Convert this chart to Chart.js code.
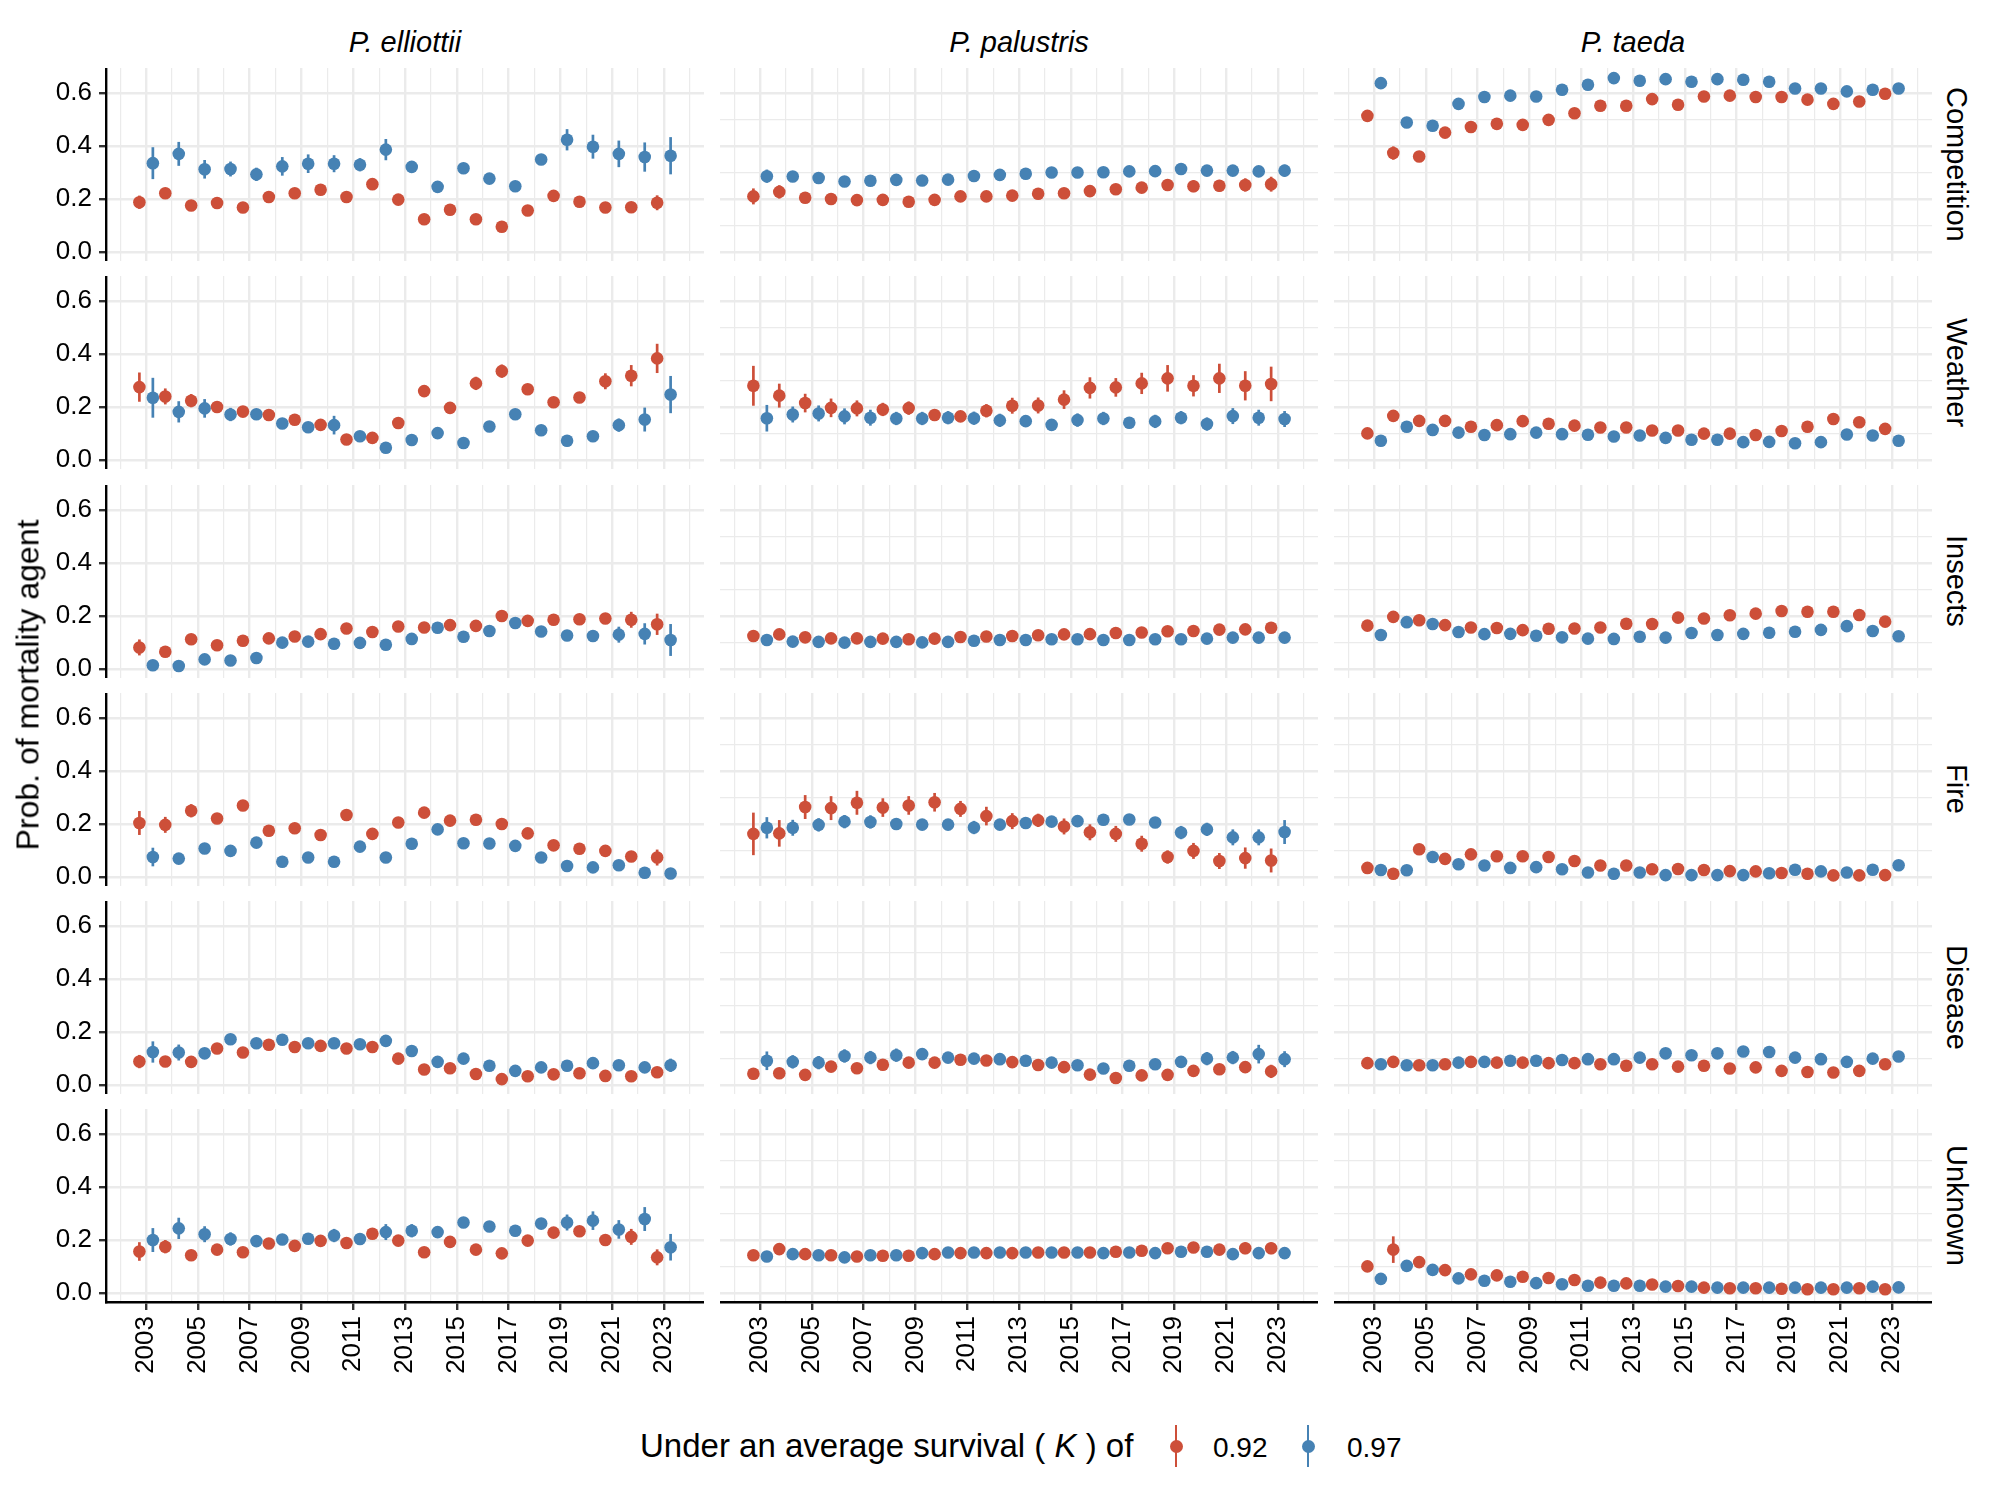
<!DOCTYPE html>
<html>
<head>
<meta charset="utf-8">
<script src="https://cdn.jsdelivr.net/npm/chart.js@4.4.1/dist/chart.umd.min.js"></script>
<style>
  body { margin: 0; background: #fff; }
  #page { position: relative; width: 2000px; height: 1500px; font-family: 'Liberation Sans', Arial, sans-serif; color: #000; }
  #page canvas { position: absolute; }
  .txt { position: absolute; white-space: nowrap; z-index: 2; }
  .strip-top { height: 36px; line-height: 36px; text-align: center; font-style: italic; font-size: 29px; }
  .strip-right { width: 40px; line-height: 40px; writing-mode: vertical-rl; text-align: center; font-size: 29px; }
  .key-line { position: absolute; width: 2.7px; height: 42px; z-index: 2; }
  .key-dot { position: absolute; width: 13px; height: 13px; border-radius: 50%; z-index: 2; }
</style>
</head>
<body>
<div id="page"></div>
<script>
const years = [2003, 2004, 2005, 2006, 2007, 2008, 2009, 2010, 2011, 2012, 2013, 2014, 2015, 2016, 2017, 2018, 2019, 2020, 2021, 2022, 2023];
const gridYears = [2002, 2003, 2004, 2005, 2006, 2007, 2008, 2009, 2010, 2011, 2012, 2013, 2014, 2015, 2016, 2017, 2018, 2019, 2020, 2021, 2022, 2023, 2024];
const yGrid = [0, 0.1, 0.2, 0.3, 0.4, 0.5, 0.6];
const species = ['P. elliottii', 'P. palustris', 'P. taeda'];
const agents = ['Competition', 'Weather', 'Insects', 'Fire', 'Disease', 'Unknown'];
const survival = ['0.92', '0.97'];

// Competition
const compEll92 = [0.188, 0.222, 0.176, 0.185, 0.168, 0.208, 0.222, 0.235, 0.208, 0.256, 0.198, 0.124, 0.160, 0.124, 0.096, 0.157, 0.212, 0.190, 0.168, 0.169, 0.186];
const compEll97 = [0.335, 0.370, 0.312, 0.313, 0.293, 0.323, 0.333, 0.333, 0.329, 0.386, 0.321, 0.246, 0.316, 0.277, 0.248, 0.349, 0.423, 0.397, 0.370, 0.358, 0.363];
const compPal92 = [0.210, 0.227, 0.205, 0.200, 0.196, 0.197, 0.190, 0.197, 0.210, 0.210, 0.213, 0.220, 0.222, 0.230, 0.237, 0.243, 0.253, 0.248, 0.250, 0.253, 0.256];
const compPal97 = [0.286, 0.285, 0.279, 0.266, 0.269, 0.272, 0.270, 0.273, 0.287, 0.291, 0.295, 0.300, 0.300, 0.301, 0.304, 0.305, 0.313, 0.307, 0.307, 0.304, 0.307];
const compTae92 = [0.513, 0.373, 0.360, 0.450, 0.471, 0.483, 0.479, 0.498, 0.523, 0.551, 0.551, 0.576, 0.555, 0.586, 0.589, 0.584, 0.584, 0.574, 0.558, 0.567, 0.596];
const compTae97 = [0.636, 0.488, 0.476, 0.558, 0.584, 0.589, 0.586, 0.611, 0.630, 0.655, 0.645, 0.651, 0.641, 0.651, 0.649, 0.641, 0.616, 0.616, 0.605, 0.611, 0.616];
const compEll92Err = [0.025, 0.020, 0.012, 0.012, 0.015, 0.012, 0.012, 0.015, 0.012, 0.020, 0.012, 0.015, 0.015, 0.015, 0.015, 0.015, 0.015, 0.012, 0.015, 0.015, 0.028];
const compEll97Err = [0.060, 0.045, 0.035, 0.028, 0.025, 0.035, 0.035, 0.032, 0.025, 0.040, 0.020, 0.020, 0.020, 0.020, 0.020, 0.020, 0.040, 0.045, 0.050, 0.055, 0.070];
const compPal92Err = [0.030, 0.025, 0.020, 0.020, 0.020, 0.020, 0.020, 0.020, 0.020, 0.020, 0.018, 0.018, 0.020, 0.020, 0.020, 0.020, 0.022, 0.022, 0.022, 0.025, 0.028];
const compPal97Err = [0.025, 0.020, 0.020, 0.020, 0.020, 0.020, 0.020, 0.020, 0.020, 0.020, 0.020, 0.018, 0.018, 0.018, 0.018, 0.018, 0.020, 0.020, 0.020, 0.020, 0.022];
const compTae92Err = [0.015, 0.025, 0.020, 0.015, 0.015, 0.015, 0.015, 0.015, 0.015, 0.015, 0.015, 0.015, 0.015, 0.015, 0.015, 0.015, 0.015, 0.015, 0.015, 0.015, 0.015];
const compTae97Err = [0.012, 0.012, 0.012, 0.012, 0.012, 0.012, 0.012, 0.012, 0.012, 0.012, 0.012, 0.012, 0.012, 0.012, 0.012, 0.012, 0.012, 0.012, 0.012, 0.012, 0.012];

// Weather
const weatEll92 = [0.275, 0.240, 0.224, 0.200, 0.183, 0.170, 0.152, 0.133, 0.078, 0.084, 0.140, 0.260, 0.197, 0.289, 0.335, 0.267, 0.218, 0.236, 0.297, 0.318, 0.383];
const weatEll97 = [0.235, 0.182, 0.195, 0.172, 0.173, 0.138, 0.124, 0.132, 0.090, 0.047, 0.076, 0.102, 0.065, 0.127, 0.173, 0.113, 0.073, 0.090, 0.132, 0.153, 0.247];
const weatPal92 = [0.280, 0.243, 0.215, 0.197, 0.195, 0.191, 0.196, 0.170, 0.165, 0.186, 0.205, 0.206, 0.228, 0.272, 0.274, 0.289, 0.308, 0.280, 0.308, 0.280, 0.287];
const weatPal97 = [0.158, 0.172, 0.176, 0.165, 0.160, 0.157, 0.157, 0.160, 0.158, 0.150, 0.147, 0.133, 0.151, 0.157, 0.141, 0.146, 0.160, 0.136, 0.166, 0.160, 0.155];
const weatTae92 = [0.101, 0.167, 0.148, 0.148, 0.126, 0.132, 0.147, 0.137, 0.130, 0.123, 0.123, 0.112, 0.112, 0.100, 0.100, 0.095, 0.110, 0.126, 0.155, 0.143, 0.118];
const weatTae97 = [0.073, 0.126, 0.114, 0.104, 0.095, 0.098, 0.104, 0.098, 0.096, 0.089, 0.093, 0.084, 0.077, 0.077, 0.068, 0.069, 0.064, 0.068, 0.097, 0.093, 0.073];
const weatEll92Err = [0.055, 0.030, 0.025, 0.015, 0.015, 0.015, 0.015, 0.015, 0.015, 0.015, 0.020, 0.020, 0.020, 0.025, 0.025, 0.020, 0.020, 0.020, 0.030, 0.040, 0.055];
const weatEll97Err = [0.075, 0.040, 0.035, 0.025, 0.020, 0.020, 0.020, 0.035, 0.020, 0.020, 0.015, 0.015, 0.015, 0.020, 0.020, 0.020, 0.020, 0.020, 0.025, 0.045, 0.070];
const weatPal92Err = [0.075, 0.045, 0.035, 0.035, 0.030, 0.025, 0.025, 0.020, 0.020, 0.025, 0.030, 0.030, 0.035, 0.040, 0.035, 0.040, 0.050, 0.040, 0.055, 0.055, 0.065];
const weatPal97Err = [0.050, 0.030, 0.030, 0.030, 0.030, 0.025, 0.025, 0.025, 0.025, 0.025, 0.020, 0.020, 0.025, 0.025, 0.020, 0.025, 0.025, 0.025, 0.030, 0.030, 0.030];
const weatTae92Err = [0.015, 0.020, 0.015, 0.015, 0.015, 0.015, 0.015, 0.015, 0.015, 0.015, 0.015, 0.015, 0.015, 0.015, 0.015, 0.015, 0.015, 0.015, 0.015, 0.015, 0.015];
const weatTae97Err = [0.012, 0.015, 0.012, 0.012, 0.012, 0.012, 0.012, 0.012, 0.012, 0.012, 0.012, 0.012, 0.012, 0.012, 0.012, 0.012, 0.012, 0.012, 0.012, 0.012, 0.012];

// Insects
const inseEll92 = [0.082, 0.066, 0.113, 0.090, 0.107, 0.116, 0.123, 0.132, 0.153, 0.140, 0.161, 0.157, 0.166, 0.163, 0.200, 0.182, 0.186, 0.188, 0.191, 0.186, 0.169];
const inseEll97 = [0.015, 0.012, 0.037, 0.033, 0.042, 0.100, 0.104, 0.096, 0.099, 0.092, 0.114, 0.156, 0.122, 0.144, 0.174, 0.142, 0.127, 0.125, 0.130, 0.133, 0.110];
const insePal92 = [0.125, 0.131, 0.120, 0.116, 0.116, 0.115, 0.113, 0.115, 0.121, 0.123, 0.125, 0.128, 0.131, 0.132, 0.136, 0.138, 0.143, 0.144, 0.149, 0.150, 0.156];
const insePal97 = [0.110, 0.104, 0.103, 0.100, 0.103, 0.103, 0.101, 0.103, 0.107, 0.110, 0.110, 0.113, 0.113, 0.110, 0.110, 0.113, 0.113, 0.115, 0.119, 0.119, 0.119];
const inseTae92 = [0.164, 0.197, 0.184, 0.166, 0.157, 0.155, 0.147, 0.152, 0.153, 0.157, 0.171, 0.170, 0.194, 0.191, 0.203, 0.209, 0.219, 0.216, 0.216, 0.204, 0.179];
const inseTae97 = [0.129, 0.177, 0.170, 0.140, 0.132, 0.133, 0.126, 0.120, 0.115, 0.114, 0.122, 0.119, 0.136, 0.129, 0.133, 0.137, 0.141, 0.148, 0.162, 0.144, 0.124];
const inseEll92Err = [0.030, 0.015, 0.015, 0.015, 0.015, 0.015, 0.015, 0.015, 0.015, 0.015, 0.015, 0.015, 0.015, 0.015, 0.015, 0.015, 0.015, 0.015, 0.020, 0.030, 0.040];
const inseEll97Err = [0.015, 0.010, 0.010, 0.010, 0.010, 0.015, 0.015, 0.015, 0.015, 0.015, 0.015, 0.015, 0.015, 0.015, 0.015, 0.015, 0.015, 0.020, 0.030, 0.040, 0.060];
const insePal92Err = [0.015, 0.015, 0.015, 0.015, 0.015, 0.015, 0.015, 0.015, 0.015, 0.015, 0.015, 0.015, 0.015, 0.015, 0.015, 0.015, 0.015, 0.015, 0.018, 0.018, 0.020];
const insePal97Err = [0.015, 0.015, 0.015, 0.015, 0.015, 0.015, 0.015, 0.015, 0.015, 0.015, 0.015, 0.015, 0.015, 0.015, 0.015, 0.015, 0.015, 0.015, 0.015, 0.015, 0.015];
const inseTae92Err = [0.015, 0.018, 0.015, 0.015, 0.015, 0.015, 0.015, 0.015, 0.015, 0.015, 0.015, 0.015, 0.015, 0.015, 0.015, 0.015, 0.015, 0.015, 0.015, 0.015, 0.015];
const inseTae97Err = [0.015, 0.015, 0.015, 0.015, 0.015, 0.015, 0.015, 0.015, 0.015, 0.015, 0.015, 0.015, 0.015, 0.015, 0.015, 0.015, 0.015, 0.015, 0.015, 0.015, 0.015];

// Fire
const fireEll92 = [0.204, 0.197, 0.250, 0.221, 0.270, 0.175, 0.184, 0.159, 0.234, 0.163, 0.206, 0.243, 0.213, 0.216, 0.200, 0.165, 0.120, 0.107, 0.099, 0.078, 0.074];
const fireEll97 = [0.076, 0.070, 0.108, 0.099, 0.130, 0.058, 0.074, 0.058, 0.115, 0.074, 0.126, 0.180, 0.128, 0.127, 0.118, 0.074, 0.042, 0.037, 0.045, 0.017, 0.014];
const firePal92 = [0.163, 0.165, 0.264, 0.260, 0.280, 0.262, 0.270, 0.282, 0.257, 0.230, 0.211, 0.214, 0.191, 0.169, 0.163, 0.126, 0.076, 0.099, 0.061, 0.072, 0.063];
const firePal97 = [0.186, 0.186, 0.197, 0.209, 0.208, 0.200, 0.198, 0.198, 0.187, 0.198, 0.204, 0.209, 0.211, 0.216, 0.217, 0.206, 0.168, 0.180, 0.150, 0.150, 0.170];
const fireTae92 = [0.035, 0.013, 0.105, 0.069, 0.086, 0.079, 0.079, 0.076, 0.061, 0.044, 0.044, 0.030, 0.031, 0.027, 0.023, 0.022, 0.016, 0.013, 0.007, 0.007, 0.008];
const fireTae97 = [0.027, 0.026, 0.076, 0.049, 0.044, 0.035, 0.038, 0.030, 0.018, 0.013, 0.018, 0.008, 0.008, 0.008, 0.008, 0.015, 0.028, 0.022, 0.018, 0.028, 0.045];
const fireEll92Err = [0.045, 0.030, 0.025, 0.020, 0.020, 0.015, 0.015, 0.015, 0.020, 0.015, 0.015, 0.020, 0.020, 0.020, 0.020, 0.015, 0.015, 0.015, 0.015, 0.020, 0.030];
const fireEll97Err = [0.035, 0.020, 0.015, 0.015, 0.015, 0.015, 0.015, 0.015, 0.015, 0.015, 0.015, 0.015, 0.015, 0.015, 0.015, 0.015, 0.015, 0.015, 0.015, 0.015, 0.015];
const firePal92Err = [0.080, 0.050, 0.045, 0.045, 0.045, 0.035, 0.035, 0.035, 0.030, 0.035, 0.030, 0.025, 0.030, 0.030, 0.030, 0.030, 0.025, 0.030, 0.030, 0.040, 0.045];
const firePal97Err = [0.040, 0.030, 0.025, 0.025, 0.025, 0.020, 0.020, 0.020, 0.025, 0.020, 0.020, 0.020, 0.020, 0.020, 0.020, 0.020, 0.025, 0.025, 0.030, 0.030, 0.045];
const fireTae92Err = [0.015, 0.015, 0.015, 0.015, 0.015, 0.015, 0.015, 0.015, 0.015, 0.015, 0.015, 0.015, 0.015, 0.015, 0.015, 0.015, 0.015, 0.015, 0.015, 0.015, 0.015];
const fireTae97Err = [0.015, 0.015, 0.015, 0.015, 0.015, 0.015, 0.015, 0.015, 0.015, 0.015, 0.015, 0.015, 0.015, 0.015, 0.015, 0.015, 0.015, 0.015, 0.015, 0.015, 0.018];

// Disease
const diseEll92 = [0.089, 0.089, 0.088, 0.138, 0.123, 0.152, 0.144, 0.148, 0.138, 0.144, 0.100, 0.059, 0.064, 0.042, 0.023, 0.034, 0.041, 0.045, 0.035, 0.034, 0.049];
const diseEll97 = [0.125, 0.123, 0.120, 0.173, 0.158, 0.171, 0.158, 0.158, 0.154, 0.167, 0.129, 0.088, 0.100, 0.073, 0.054, 0.067, 0.073, 0.083, 0.075, 0.067, 0.075];
const disePal92 = [0.043, 0.045, 0.039, 0.070, 0.064, 0.077, 0.085, 0.085, 0.096, 0.093, 0.087, 0.076, 0.068, 0.040, 0.027, 0.037, 0.039, 0.054, 0.060, 0.068, 0.052];
const disePal97 = [0.092, 0.088, 0.085, 0.110, 0.104, 0.113, 0.117, 0.104, 0.100, 0.098, 0.092, 0.085, 0.075, 0.063, 0.073, 0.079, 0.088, 0.100, 0.104, 0.117, 0.098];
const diseTae92 = [0.083, 0.088, 0.075, 0.079, 0.088, 0.085, 0.085, 0.083, 0.083, 0.079, 0.073, 0.079, 0.070, 0.073, 0.063, 0.067, 0.054, 0.050, 0.048, 0.054, 0.079];
const diseTae97 = [0.079, 0.075, 0.075, 0.085, 0.088, 0.092, 0.092, 0.095, 0.098, 0.098, 0.104, 0.120, 0.113, 0.120, 0.127, 0.125, 0.104, 0.098, 0.088, 0.100, 0.108];
const diseEll92Err = [0.025, 0.020, 0.020, 0.015, 0.020, 0.015, 0.015, 0.015, 0.015, 0.015, 0.020, 0.015, 0.015, 0.015, 0.015, 0.015, 0.015, 0.015, 0.015, 0.015, 0.020];
const diseEll97Err = [0.040, 0.030, 0.020, 0.020, 0.015, 0.015, 0.015, 0.015, 0.015, 0.020, 0.020, 0.015, 0.020, 0.015, 0.015, 0.015, 0.015, 0.020, 0.020, 0.015, 0.025];
const disePal92Err = [0.020, 0.020, 0.020, 0.020, 0.020, 0.020, 0.020, 0.020, 0.020, 0.020, 0.020, 0.020, 0.020, 0.020, 0.020, 0.020, 0.020, 0.020, 0.020, 0.020, 0.025];
const disePal97Err = [0.035, 0.025, 0.025, 0.025, 0.025, 0.025, 0.020, 0.020, 0.020, 0.020, 0.020, 0.020, 0.020, 0.020, 0.020, 0.020, 0.020, 0.025, 0.025, 0.035, 0.030];
const diseTae92Err = [0.015, 0.015, 0.015, 0.015, 0.015, 0.015, 0.015, 0.015, 0.015, 0.015, 0.015, 0.015, 0.015, 0.015, 0.015, 0.015, 0.015, 0.015, 0.015, 0.015, 0.015];
const diseTae97Err = [0.015, 0.015, 0.015, 0.015, 0.015, 0.015, 0.015, 0.015, 0.015, 0.015, 0.015, 0.015, 0.015, 0.015, 0.015, 0.015, 0.015, 0.015, 0.015, 0.015, 0.015];

// Unknown
const unknEll92 = [0.157, 0.175, 0.143, 0.164, 0.154, 0.187, 0.178, 0.197, 0.189, 0.224, 0.198, 0.154, 0.193, 0.164, 0.150, 0.198, 0.228, 0.233, 0.200, 0.212, 0.135];
const unknEll97 = [0.200, 0.244, 0.222, 0.204, 0.196, 0.202, 0.205, 0.217, 0.204, 0.230, 0.235, 0.230, 0.266, 0.251, 0.235, 0.262, 0.266, 0.273, 0.240, 0.279, 0.173];
const unknPal92 = [0.143, 0.166, 0.147, 0.143, 0.138, 0.141, 0.141, 0.147, 0.151, 0.151, 0.151, 0.153, 0.153, 0.153, 0.156, 0.160, 0.169, 0.172, 0.164, 0.169, 0.169];
const unknPal97 = [0.138, 0.147, 0.143, 0.135, 0.143, 0.143, 0.151, 0.153, 0.153, 0.153, 0.153, 0.153, 0.153, 0.151, 0.153, 0.151, 0.156, 0.156, 0.147, 0.151, 0.151];
const unknTae92 = [0.101, 0.164, 0.117, 0.087, 0.071, 0.067, 0.062, 0.057, 0.050, 0.040, 0.037, 0.033, 0.027, 0.021, 0.019, 0.019, 0.017, 0.015, 0.015, 0.019, 0.015];
const unknTae97 = [0.054, 0.103, 0.088, 0.056, 0.047, 0.043, 0.038, 0.034, 0.028, 0.028, 0.028, 0.025, 0.025, 0.021, 0.021, 0.021, 0.021, 0.021, 0.021, 0.025, 0.022];
const unknEll92Err = [0.035, 0.025, 0.020, 0.020, 0.020, 0.020, 0.020, 0.020, 0.020, 0.020, 0.020, 0.020, 0.020, 0.020, 0.020, 0.020, 0.020, 0.020, 0.020, 0.030, 0.030];
const unknEll97Err = [0.045, 0.040, 0.030, 0.025, 0.020, 0.020, 0.020, 0.025, 0.020, 0.030, 0.025, 0.020, 0.020, 0.020, 0.020, 0.020, 0.030, 0.035, 0.035, 0.045, 0.050];
const unknPal92Err = [0.020, 0.020, 0.018, 0.018, 0.018, 0.018, 0.018, 0.018, 0.018, 0.018, 0.018, 0.018, 0.018, 0.018, 0.018, 0.018, 0.020, 0.020, 0.020, 0.022, 0.022];
const unknPal97Err = [0.018, 0.018, 0.018, 0.018, 0.018, 0.018, 0.018, 0.018, 0.018, 0.018, 0.018, 0.018, 0.018, 0.018, 0.018, 0.018, 0.018, 0.018, 0.018, 0.018, 0.018];
const unknTae92Err = [0.020, 0.050, 0.020, 0.015, 0.015, 0.015, 0.015, 0.015, 0.015, 0.015, 0.015, 0.015, 0.015, 0.015, 0.015, 0.015, 0.015, 0.015, 0.015, 0.015, 0.015];
const unknTae97Err = [0.015, 0.020, 0.015, 0.015, 0.015, 0.015, 0.015, 0.015, 0.015, 0.015, 0.015, 0.015, 0.015, 0.015, 0.015, 0.015, 0.015, 0.015, 0.015, 0.015, 0.015];

// lookup tables: agent -> species -> [0.92, 0.97]
const values = {
  Competition: [[compEll92, compEll97], [compPal92, compPal97], [compTae92, compTae97]],
  Weather: [[weatEll92, weatEll97], [weatPal92, weatPal97], [weatTae92, weatTae97]],
  Insects: [[inseEll92, inseEll97], [insePal92, insePal97], [inseTae92, inseTae97]],
  Fire: [[fireEll92, fireEll97], [firePal92, firePal97], [fireTae92, fireTae97]],
  Disease: [[diseEll92, diseEll97], [disePal92, disePal97], [diseTae92, diseTae97]],
  Unknown: [[unknEll92, unknEll97], [unknPal92, unknPal97], [unknTae92, unknTae97]]
};
const errors = {
  Competition: [[compEll92Err, compEll97Err], [compPal92Err, compPal97Err], [compTae92Err, compTae97Err]],
  Weather: [[weatEll92Err, weatEll97Err], [weatPal92Err, weatPal97Err], [weatTae92Err, weatTae97Err]],
  Insects: [[inseEll92Err, inseEll97Err], [insePal92Err, insePal97Err], [inseTae92Err, inseTae97Err]],
  Fire: [[fireEll92Err, fireEll97Err], [firePal92Err, firePal97Err], [fireTae92Err, fireTae97Err]],
  Disease: [[diseEll92Err, diseEll97Err], [disePal92Err, disePal97Err], [diseTae92Err, diseTae97Err]],
  Unknown: [[unknEll92Err, unknEll97Err], [unknPal92Err, unknPal97Err], [unknTae92Err, unknTae97Err]]
};

const colors = ['#CD4F39', '#4682B4'];
const dodge = [-0.26, 0.26];

// layout (px)
const plotX = [106, 720, 1334];
const plotW = 598;
const plotTop = 68.3;
const rowStep = 208.1;
const plotH = 193;
const yAxisW = 106;
const xAxisH = 110;
const legendY = 1446;

Chart.defaults.font.family = "'Liberation Sans', Arial, sans-serif";
const page = document.getElementById('page');

const isMajorY = (v) => Math.round(v * 10) % 2 === 0;
const isMajorX = (v) => Math.round(v) % 2 === 1;
const noPad = (s) => { s.paddingTop = 0; s.paddingBottom = 0; s.paddingLeft = 0; s.paddingRight = 0; };

const errorBars = {
  id: 'errorBars',
  beforeDatasetsDraw(chart) {
    const { ctx, scales: { x, y } } = chart;
    chart.data.datasets.forEach((ds) => {
      ctx.save();
      ctx.strokeStyle = ds.backgroundColor;
      ctx.lineWidth = 2.7;
      ds.data.forEach((p) => {
        const px = x.getPixelForValue(p.x);
        ctx.beginPath();
        ctx.moveTo(px, y.getPixelForValue(p.lo));
        ctx.lineTo(px, y.getPixelForValue(p.hi));
        ctx.stroke();
      });
      ctx.restore();
    });
  }
};

agents.forEach((agent, r) => {
  species.forEach((sp, c) => {
    const leftW = c === 0 ? yAxisW : 0;
    const bottomH = r === agents.length - 1 ? xAxisH : 0;
    const canvas = document.createElement('canvas');
    canvas.width = leftW + plotW;
    canvas.height = plotH + bottomH;
    canvas.style.left = (plotX[c] - leftW) + 'px';
    canvas.style.top = (plotTop + r * rowStep) + 'px';
    page.appendChild(canvas);

    const datasets = survival.map((k, s) => ({
      label: k,
      data: years.map((yr, i) => {
        const v = values[agent][c][s][i];
        const e = errors[agent][c][s][i];
        return { x: yr + dodge[s], y: v, lo: v - e, hi: v + e };
      }),
      backgroundColor: colors[s],
      borderWidth: 0,
      pointRadius: 6.3,
      pointHoverRadius: 6.3
    }));

    new Chart(canvas, {
      type: 'scatter',
      data: { datasets },
      options: {
        responsive: false,
        animation: false,
        devicePixelRatio: 1,
        events: [],
        layout: { padding: 0, autoPadding: false },
        plugins: { legend: { display: false }, tooltip: { enabled: false } },
        scales: {
          x: {
            type: 'linear',
            min: 2001.45,
            max: 2024.55,
            afterBuildTicks: (s) => { s.ticks = gridYears.map((v) => ({ value: v })); },
            afterFit: (s) => { s.height = bottomH; noPad(s); },
            grid: {
              color: '#EBEBEB',
              lineWidth: (ctx) => (ctx.tick && isMajorX(ctx.tick.value) ? 2.4 : 1.2),
              drawTicks: bottomH > 0,
              tickLength: 8,
              tickWidth: 2.4,
              tickColor: (ctx) => (ctx.tick && isMajorX(ctx.tick.value) ? '#333333' : 'rgba(0,0,0,0)')
            },
            border: { display: bottomH > 0, color: '#000', width: 2.6 },
            ticks: {
              display: bottomH > 0,
              autoSkip: false,
              minRotation: 90,
              maxRotation: 90,
              padding: 6,
              color: '#000',
              font: { size: 26 },
              callback: (v) => (isMajorX(v) ? String(v) : '')
            }
          },
          y: {
            min: -0.033,
            max: 0.693,
            afterBuildTicks: (s) => { s.ticks = yGrid.map((v) => ({ value: v })); },
            afterFit: (s) => { s.width = leftW; noPad(s); },
            grid: {
              color: '#EBEBEB',
              lineWidth: (ctx) => (ctx.tick && isMajorY(ctx.tick.value) ? 2.4 : 1.2),
              drawTicks: leftW > 0,
              tickLength: 7,
              tickWidth: 2.4,
              tickColor: (ctx) => (ctx.tick && isMajorY(ctx.tick.value) ? '#333333' : 'rgba(0,0,0,0)')
            },
            border: { display: leftW > 0, color: '#000', width: 2.4 },
            ticks: {
              display: leftW > 0,
              padding: 7,
              color: '#000',
              font: { size: 26 },
              callback: (v) => (isMajorY(v) ? v.toFixed(1) : '')
            }
          }
        }
      },
      plugins: [errorBars]
    });
  });
});

function addText(html, cls, style) {
  const d = document.createElement('div');
  d.className = 'txt ' + (cls || '');
  d.innerHTML = html;
  Object.assign(d.style, style);
  page.appendChild(d);
  return d;
}

// column strips
species.forEach((sp, c) => {
  addText(sp, 'strip-top', { left: plotX[c] + 'px', width: plotW + 'px', top: '24px' });
});
// row strips
agents.forEach((agent, r) => {
  addText(agent, 'strip-right', { left: '1937px', top: (plotTop + r * rowStep) + 'px', height: plotH + 'px' });
});
// y axis title
addText('Prob. of mortality agent', '', {
  left: '28px', top: '685px', fontSize: '32px',
  transform: 'translate(-50%, -50%) rotate(-90deg)'
});

// legend
addText('Under an average survival ( <i>K</i> ) of', '', { left: '640px', top: (legendY - 19) + 'px', fontSize: '33px', lineHeight: '38px' });
const keyX = [1176, 1308];
const keyTextX = [1213, 1347];
survival.forEach((k, s) => {
  const line = document.createElement('div');
  line.className = 'key-line';
  Object.assign(line.style, { left: (keyX[s] - 1.35) + 'px', top: (legendY - 21) + 'px', background: colors[s] });
  page.appendChild(line);
  const dot = document.createElement('div');
  dot.className = 'key-dot';
  Object.assign(dot.style, { left: (keyX[s] - 6.5) + 'px', top: (legendY - 6.5) + 'px', background: colors[s] });
  page.appendChild(dot);
  addText(k, '', { left: keyTextX[s] + 'px', top: (legendY - 15) + 'px', fontSize: '28px', lineHeight: '34px' });
});
</script>
</body>
</html>
